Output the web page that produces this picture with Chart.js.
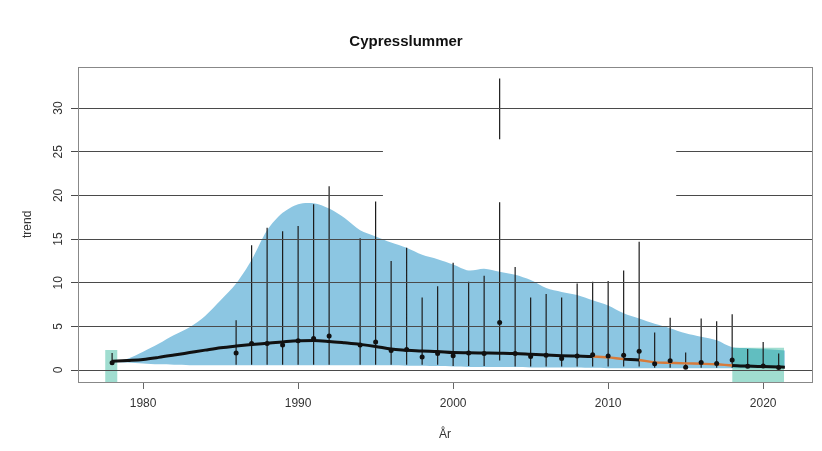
<!DOCTYPE html>
<html><head><meta charset="utf-8">
<script src="https://cdn.jsdelivr.net/npm/chart.js@4.4.0/dist/chart.umd.min.js"></script>
<style>html,body{margin:0;padding:0;background:#fff}#wrap{width:822px;height:451px}</style>
</head><body><div id="wrap"><canvas id="c" width="822" height="451"></canvas></div>
<script>
const chartTitle = 'Cypresslummer';
const xTitle = 'År';
const yTitle = 'trend';
const xTickValues = [1980, 1990, 2000, 2010, 2020];
const yTickValues = [0, 5, 10, 15, 20, 25, 30];

// yearly indices with confidence intervals
const indexYears  = [1978,1986,1987,1988,1989,1990,1991,1992,1994,1995,1996,1997,1998,1999,2000,2001,2002,2003,2004,2005,2006,2007,2008,2009,2010,2011,2012,2013,2014,2015,2016,2017,2018,2019,2020,2021];
const indexValues = [0.83,1.95,3.05,3.05,2.86,3.35,3.6,3.9,2.86,3.2,2.25,2.35,1.5,1.9,1.65,1.95,1.9,5.45,1.9,1.55,1.7,1.33,1.6,1.75,1.6,1.7,2.15,0.72,1.05,0.32,0.85,0.76,1.14,0.42,0.45,0.28];
const ciLow       = [0.57,0.6,0.6,0.6,0.6,0.6,0.6,0.6,0.6,0.6,0.6,0.6,0.6,0.6,0.45,0.45,0.45,1.1,0.4,0.4,0.4,0.4,0.4,0.4,0.4,0.4,0.4,0.25,0.25,0.25,0.25,0.25,0.25,0.25,0.25,0.25];
const ciHigh      = [1.95,5.7,14.3,16.3,15.9,16.5,19.0,21.05,15.1,19.3,12.5,14.0,8.3,9.6,12.3,10.1,10.8,33.4,11.8,8.3,8.7,8.3,9.9,10.1,10.2,11.4,14.7,4.3,6.0,2.0,5.9,5.6,6.4,2.4,3.2,1.9];

// smoothed trend and its band
const trendYears  = [1978,1979,1980,1981,1982,1983,1984,1985,1986,1987,1988,1989,1990,1991,1992,1993,1994,1995,1996,1997,1998,1999,2000,2001,2002,2003,2004,2005,2006,2007,2008,2009,2010,2011,2012,2013,2014,2015,2016,2017,2018,2019,2020,2021,2021.4];
const trendValues = [1.0,1.1,1.22,1.45,1.72,2.0,2.28,2.55,2.75,2.92,3.07,3.22,3.35,3.38,3.28,3.12,2.94,2.7,2.4,2.28,2.18,2.12,2.0,1.98,1.95,1.92,1.88,1.8,1.72,1.65,1.6,1.55,1.45,1.25,1.15,0.88,0.82,0.76,0.72,0.66,0.52,0.45,0.4,0.35,0.33];
const bandUpper   = [1.0,1.3,2.1,3.0,4.0,4.9,6.2,8.0,9.9,12.6,16.0,18.0,19.0,19.1,18.5,17.4,16.0,15.3,14.6,14.0,13.2,12.7,12.1,11.4,11.6,11.25,10.9,10.3,9.4,8.95,8.6,8.0,7.4,6.5,5.9,5.3,4.8,4.2,3.8,3.4,2.6,2.5,2.4,2.3,2.25];
const bandLower   = [0.95,0.85,0.75,0.65,0.6,0.55,0.55,0.55,0.55,0.55,0.55,0.55,0.55,0.55,0.55,0.55,0.55,0.55,0.55,0.5,0.5,0.45,0.4,0.35,0.35,0.35,0.35,0.3,0.3,0.3,0.3,0.25,0.2,0.2,0.2,0.2,0.2,0.2,0.2,0.2,0.2,0.2,0.2,0.2,0.2];
const orangeSegmentStarts = [2009, 2010, 2012, 2013, 2014, 2015, 2016, 2017];

// highlighted periods [xFrom, xTo, top]
const greenBoxes = [[1977.55, 1978.35, 2.3], [2018.0, 2021.35, 2.55]];
// blank legend area [xFrom, xTo, yFrom, yTo]
const blankLegend = [1995.47, 2014.39, 19.22, 26.43];

const X_MIN = 1975.8, X_MAX = 2023.15, Y_MIN = -1.37, Y_MAX = 34.74;
const FONT = 'Liberation Sans, Arial, Helvetica, sans-serif';
Chart.defaults.font.family = FONT;

const pts = (xs, ys) => xs.map((x, i) => ({x, y: ys[i]}));
const bars = [];
indexYears.forEach((yr, i) => { bars.push({x: yr, y: ciLow[i]}, {x: yr, y: ciHigh[i]}, {x: yr, y: null}); });

const boxDatasets = greenBoxes.map(b => ({
  data: [{x: b[0], y: b[2]}, {x: b[1], y: b[2]}],
  borderWidth: 0, pointRadius: 0, tension: 0,
  backgroundColor: 'rgba(45,180,150,0.45)',
  fill: {value: Y_MIN}
}));

const isOrange = ctx => orangeSegmentStarts.includes(ctx.p0.parsed.x);

const frame = {
  id: 'frame',
  afterDraw(chart) {
    const {ctx, chartArea: a, scales: {x, y}} = chart;
    ctx.save();
    const lx0 = x.getPixelForValue(blankLegend[0]), lx1 = x.getPixelForValue(blankLegend[1]);
    const ly0 = y.getPixelForValue(blankLegend[3]), ly1 = y.getPixelForValue(blankLegend[2]);
    ctx.fillStyle = '#fff';
    ctx.fillRect(lx0, ly0, lx1 - lx0, ly1 - ly0);
    ctx.strokeStyle = '#888';
    ctx.lineWidth = 1;
    ctx.strokeRect(Math.round(a.left) + 0.5, Math.round(a.top) + 0.5, Math.round(a.right - a.left), Math.round(a.bottom - a.top));
    ctx.restore();
  }
};

new Chart(document.getElementById('c'), {
  type: 'line',
  data: {
    datasets: [
      { data: pts(indexYears, indexValues), showLine: false, pointRadius: 2.5, pointBackgroundColor: '#111', pointBorderWidth: 0, borderWidth: 0 },
      { data: pts(trendYears, trendValues), pointRadius: 0, borderColor: '#111', borderWidth: 3, cubicInterpolationMode: 'monotone',
        segment: { borderColor: ctx => isOrange(ctx) ? '#d77a3a' : '#111', borderWidth: ctx => isOrange(ctx) ? 2.4 : 3 } },
      { data: bars, pointRadius: 0, borderColor: '#1c1c1c', borderWidth: 1.2, tension: 0, spanGaps: false },
      ...boxDatasets,
      { data: pts(trendYears, bandUpper), pointRadius: 0, borderWidth: 0, tension: 0.3, fill: '+1', backgroundColor: 'rgb(140,198,226)' },
      { data: pts(trendYears, bandLower), pointRadius: 0, borderWidth: 0, tension: 0.3, fill: false }
    ]
  },
  options: {
    responsive: false, animation: false, devicePixelRatio: 1, events: [],
    layout: { padding: { left: 0, right: 10, top: 0, bottom: 0 } },
    plugins: {
      legend: { display: false }, tooltip: { enabled: false },
      title: { display: true, text: chartTitle, color: '#111', font: { size: 15, weight: 'bold', family: FONT }, padding: { top: 33, bottom: 15.7 } }
    },
    scales: {
      x: {
        type: 'linear', min: X_MIN, max: X_MAX,
        afterBuildTicks: s => { s.ticks = xTickValues.map(v => ({value: v})); },
        afterFit: s => { s.height = 69; },
        ticks: { color: '#333', font: { size: 12 }, padding: 7, maxRotation: 0, callback: v => String(v) },
        grid: { drawOnChartArea: false, drawTicks: true, tickLength: 7, color: '#666' },
        border: { display: false },
        title: { display: true, text: xTitle, color: '#333', font: { size: 12 }, padding: { top: 0, bottom: 9 } }
      },
      y: {
        type: 'linear', min: Y_MIN, max: Y_MAX,
        afterBuildTicks: s => { s.ticks = yTickValues.map(v => ({value: v})); },
        afterFit: s => { s.width = 78; },
        ticks: { color: '#333', font: { size: 12 }, minRotation: 90, maxRotation: 90, crossAlign: 'center', padding: 6, callback: v => String(v) },
        grid: { color: '#4a4a4a', tickLength: 7, z: 1 },
        border: { display: false },
        title: { display: true, text: yTitle, color: '#333', font: { size: 12 }, padding: { top: 20, bottom: 0 } }
      }
    }
  },
  plugins: [frame]
});
</script></body></html>
